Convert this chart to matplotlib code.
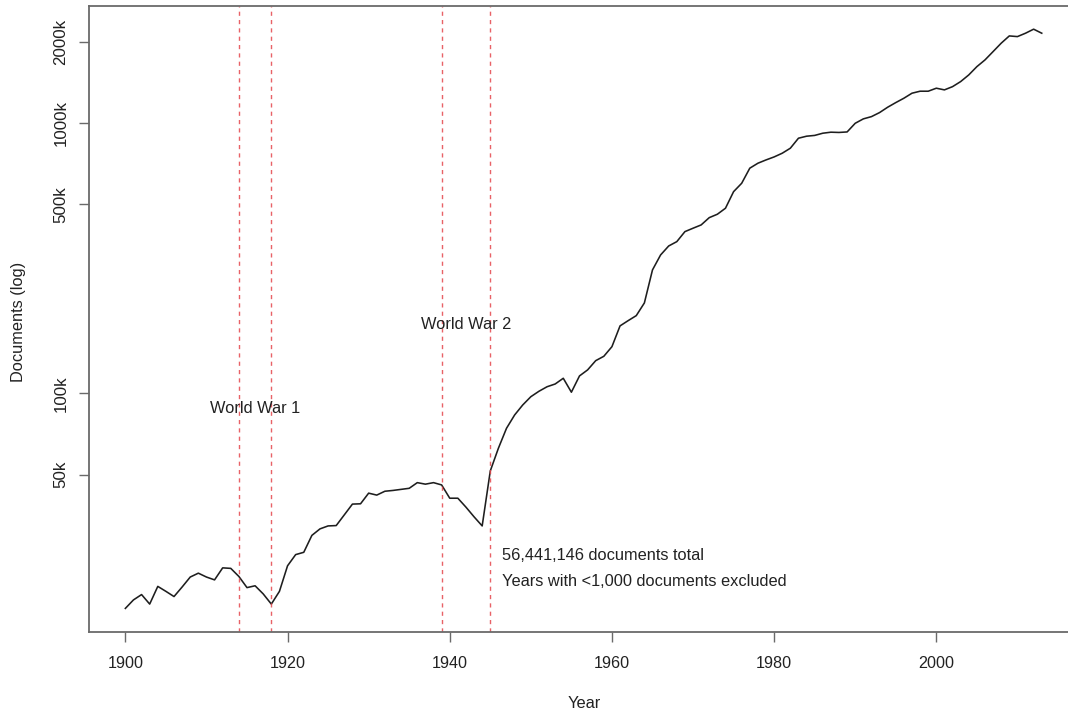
import matplotlib
matplotlib.use("Agg")
import matplotlib.pyplot as plt
from matplotlib.ticker import FixedLocator, NullLocator

plt.rcParams['font.family'] = ['Liberation Sans', 'DejaVu Sans']

years = list(range(1900, 2014))
documents = [
    16000, 17200, 18000, 16600, 19300, 18500, 17700, 19200, 20900, 21600,
    20900, 20400, 22600, 22500, 21000, 19100, 19400, 18100, 16600, 18500,
    23000, 25300, 25800, 29800, 31500, 32300, 32400, 35500, 38900, 39000,
    42700, 42000, 43400, 43700, 44100, 44500, 46700, 46100, 46700, 45800,
    40900, 40900, 37900, 34900, 32300, 51600, 62600, 74200, 83100, 90500,
    97100, 101700, 105700, 108200, 113600, 100900, 115900, 122000, 132000, 137000,
    148700, 177500, 185600, 193700, 215800, 285900, 324800, 350600, 363800, 396200,
    407800, 419400, 446300, 459400, 483500, 556800, 598100, 680100, 709400, 729600,
    748500, 772500, 806200, 877800, 893000, 899000, 916000, 924000, 922000, 926000,
    997000, 1035000, 1055000, 1092000, 1143000, 1189000, 1234000, 1288000, 1310000, 1310000,
    1344000, 1325000, 1362000, 1422000, 1505000, 1615000, 1710000, 1836000, 1972000, 2098000,
    2086000, 2147000, 2222000, 2147000,
]

war_years = [1914, 1918, 1939, 1945]
war_labels = ["World War 1", "World War 2"]
war_label_pos = [(1916, 88000), (1942, 179000)]

y_ticks = [50000, 100000, 500000, 1000000, 2000000]
y_tick_labels = ["50k", "100k", "500k", "1000k", "2000k"]
x_ticks = [1900, 1920, 1940, 1960, 1980, 2000]

notes = ["56,441,146 documents total", "Years with <1,000 documents excluded"]
notes_pos = [(1946.4, 25200), (1946.4, 20100)]

W, H = 1068, 715
fig = plt.figure(figsize=(W / 100, H / 100), dpi=100)
left, right, top, bottom = 88.7, 1078.4, 6.0, 631.7
ax = fig.add_axes([left / W, 1 - bottom / H, (right - left) / W, (bottom - top) / H])

ax.plot(years, documents, color="#1e1e1e", lw=1.15)
for wy in war_years:
    ax.axvline(wy, color="#e4474c", lw=1.0, linestyle=(0, (3.0, 3.0)), alpha=0.85)

for lab, (xx, yy) in zip(war_labels, war_label_pos):
    ax.text(xx, yy, lab, ha="center", va="center", fontsize=11.8, color="#222222")
for lab, (xx, yy) in zip(notes, notes_pos):
    ax.text(xx, yy, lab, ha="left", va="center", fontsize=11.8, color="#222222")

ax.set_yscale("log")
ax.set_xlim(1895.48, 2017.52)
ax.set_ylim(13120, 2707000)

ax.yaxis.set_major_locator(FixedLocator(y_ticks))
ax.yaxis.set_minor_locator(NullLocator())
ax.set_yticklabels(y_tick_labels)
ax.xaxis.set_major_locator(FixedLocator(x_ticks))
ax.set_xticklabels([str(x) for x in x_ticks])

spine_col = "#6a6a6a"
for s in ax.spines.values():
    s.set_color(spine_col)
    s.set_linewidth(1.3)

ax.tick_params(axis="both", direction="out", length=7.5, width=1.0, color=spine_col,
               labelsize=11.6, labelcolor="#222222")
ax.tick_params(axis="x", pad=10)
ax.tick_params(axis="y", pad=7, labelrotation=90, labelsize=12.2)
for t in ax.get_yticklabels():
    t.set_va("center")

fig.text(19 / W, 1 - 322 / H, "Documents (log)", rotation=90, ha="center", va="center",
         fontsize=11.8, color="#222222")
fig.text(584 / W, 1 - 703.5 / H, "Year", ha="center", va="center",
         fontsize=11.8, color="#222222")

fig.savefig("out.png", dpi=100, facecolor="white")
